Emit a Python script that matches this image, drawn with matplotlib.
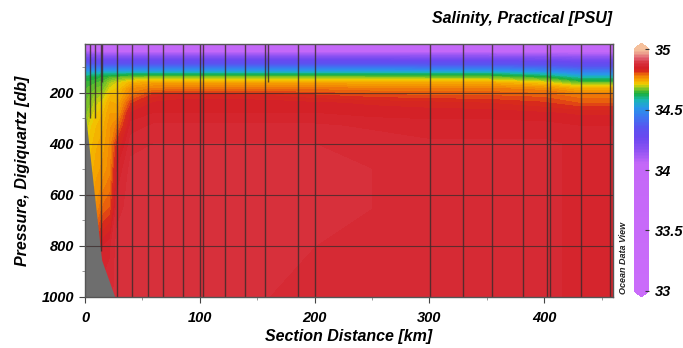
import numpy as np
import matplotlib
matplotlib.use("Agg")
import matplotlib.pyplot as plt
from matplotlib.colors import LinearSegmentedColormap, Normalize

plt.rcParams['font.family'] = ['Liberation Sans', 'DejaVu Sans']

# ---- data ----
dist_km = [0, 5, 10, 16, 22, 28, 40, 60, 85, 120, 160, 200, 250, 300, 350, 400, 430, 460]
pres_db = [5, 35, 50, 75, 95, 112, 125, 140, 160, 185, 210, 240, 280, 330, 400, 500, 650, 800, 1000]

# salinity profiles, one per distance column (values at pres_db levels)
sal_0   = [34.00, 34.05, 34.16, 34.30, 34.42, 34.50, 34.57, 34.62, 34.64, 34.65, 34.655, 34.66, 34.665, 34.68, 34.70, 34.72, 34.74, 34.76, 34.78]
sal_5   = [34.00, 34.04, 34.15, 34.29, 34.41, 34.50, 34.57, 34.625, 34.645, 34.655, 34.665, 34.675, 34.69, 34.71, 34.72, 34.73, 34.75, 34.77, 34.80]
sal_10  = [34.00, 34.03, 34.14, 34.28, 34.40, 34.50, 34.58, 34.63, 34.65, 34.665, 34.68, 34.695, 34.71, 34.725, 34.735, 34.745, 34.765, 34.82, 34.85]
sal_16  = [34.00, 34.03, 34.13, 34.28, 34.40, 34.50, 34.59, 34.64, 34.655, 34.67, 34.69, 34.71, 34.725, 34.735, 34.745, 34.755, 34.79, 34.85, 34.87]
sal_22  = [34.00, 34.03, 34.13, 34.28, 34.40, 34.50, 34.59, 34.65, 34.685, 34.705, 34.725, 34.74, 34.75, 34.76, 34.765, 34.77, 34.80, 34.86, 34.87]
sal_28  = [34.00, 34.02, 34.12, 34.28, 34.40, 34.50, 34.59, 34.66, 34.70, 34.715, 34.725, 34.735, 34.75, 34.78, 34.82, 34.85, 34.87, 34.88, 34.88]
sal_40  = [34.00, 34.02, 34.12, 34.28, 34.40, 34.50, 34.60, 34.67, 34.73, 34.765, 34.78, 34.81, 34.84, 34.855, 34.87, 34.88, 34.88, 34.88, 34.88]
sal_60  = [34.00, 34.02, 34.12, 34.28, 34.40, 34.50, 34.60, 34.68, 34.745, 34.78, 34.82, 34.84, 34.85, 34.865, 34.875, 34.88, 34.88, 34.88, 34.875]
sal_85  = [34.00, 34.02, 34.12, 34.28, 34.40, 34.50, 34.60, 34.68, 34.745, 34.785, 34.83, 34.845, 34.85, 34.865, 34.875, 34.88, 34.88, 34.88, 34.875]
sal_120 = [34.00, 34.02, 34.12, 34.28, 34.40, 34.50, 34.60, 34.68, 34.745, 34.785, 34.83, 34.845, 34.85, 34.865, 34.875, 34.88, 34.88, 34.88, 34.875]
sal_160 = [34.00, 34.02, 34.12, 34.28, 34.40, 34.50, 34.60, 34.68, 34.745, 34.785, 34.825, 34.845, 34.85, 34.865, 34.875, 34.88, 34.88, 34.88, 34.875]
sal_200 = [34.00, 34.02, 34.12, 34.28, 34.40, 34.50, 34.60, 34.68, 34.745, 34.785, 34.815, 34.84, 34.85, 34.865, 34.875, 34.88, 34.88, 34.875, 34.875]
sal_250 = [34.00, 34.02, 34.12, 34.28, 34.40, 34.50, 34.60, 34.675, 34.74, 34.78, 34.805, 34.835, 34.845, 34.86, 34.87, 34.875, 34.875, 34.87, 34.87]
sal_300 = [34.00, 34.02, 34.12, 34.27, 34.39, 34.50, 34.60, 34.67, 34.74, 34.78, 34.80, 34.83, 34.845, 34.855, 34.865, 34.87, 34.87, 34.865, 34.865]
sal_350 = [34.00, 34.02, 34.12, 34.27, 34.39, 34.50, 34.60, 34.67, 34.74, 34.78, 34.80, 34.825, 34.845, 34.855, 34.865, 34.87, 34.87, 34.865, 34.865]
sal_400 = [34.00, 34.02, 34.11, 34.26, 34.37, 34.47, 34.56, 34.64, 34.71, 34.77, 34.795, 34.815, 34.84, 34.855, 34.865, 34.865, 34.865, 34.865, 34.865]
sal_430 = [34.00, 34.02, 34.10, 34.24, 34.34, 34.43, 34.50, 34.58, 34.66, 34.74, 34.78, 34.80, 34.835, 34.85, 34.86, 34.86, 34.86, 34.86, 34.86]
sal_460 = [34.00, 34.02, 34.10, 34.24, 34.34, 34.43, 34.50, 34.58, 34.66, 34.74, 34.78, 34.80, 34.835, 34.85, 34.86, 34.86, 34.86, 34.86, 34.86]

sal_profiles = [sal_0, sal_5, sal_10, sal_16, sal_22, sal_28, sal_40, sal_60, sal_85, sal_120,
                sal_160, sal_200, sal_250, sal_300, sal_350, sal_400, sal_430, sal_460]

# station positions and their deepest sample
station_km = [4, 8.4, 13.7, 15.2, 27.6, 41, 54.5, 68, 85.5, 100.3, 102.8, 122.2, 139.6, 157, 159,
              186, 200.5, 300.8, 329.5, 354.6, 381.6, 402.5, 404.8, 431.7, 457.7]
station_maxp = [300, 300, 820, 157, 1000, 1000, 1000, 1000, 1000, 1000, 1000, 1000, 1000, 1000, 157,
                1000, 1000, 1000, 1000, 1000, 1000, 1000, 1000, 1000, 1000]

# bottom topography (gray)
bathy_km = [0, 0.8, 14.5, 26]
bathy_p = [300, 300, 855, 1000]

cbar_ticks = [33, 33.5, 34, 34.5, 35]
x_ticks = [0, 100, 200, 300, 400]
y_ticks = [200, 400, 600, 800, 1000]

# ---- colormap (ODV-like) ----
vmin, vmax = 33.0, 35.0
stops = [(33.0, '#CA6CFA'), (34.05, '#C468F8'), (34.18, '#8850F2'), (34.27, '#6A48F0'),
         (34.35, '#5A52F0'), (34.45, '#3A7AF0'), (34.52, '#2898E8'), (34.58, '#18B8B0'),
         (34.63, '#18AE40'), (34.68, '#90C820'), (34.71, '#F2D000'), (34.75, '#F5A000'),
         (34.79, '#EE7008'), (34.82, '#D82A1C'), (34.85, '#D42028'), (34.89, '#D8343F'),
         (34.93, '#E06070'), (34.96, '#EA9488'), (35.0, '#F5C09C')]
cmap = LinearSegmentedColormap.from_list(
    'odv', [((v - vmin) / (vmax - vmin), c) for v, c in stops], N=512)
cmap.set_under('#CA6CFA')
cmap.set_over('#F5C09C')

# ---- figure ----
fig = plt.figure(figsize=(6.83, 3.48), dpi=100)
ax = fig.add_axes([85 / 683, 1 - 297 / 348, 528 / 683, 253 / 348])

X, P = np.meshgrid(dist_km, pres_db)
Z = np.array(sal_profiles).T
levels = np.linspace(vmin, vmax, 161)
cf = ax.contourf(X, P, Z, levels=levels, cmap=cmap, norm=Normalize(vmin, vmax), extend='both')

ax.fill_between(bathy_km, bathy_p, 1010, color='#6E6E6E', zorder=3, linewidth=0)

for y in [200, 400, 600, 800]:
    ax.axhline(y, color='#3a2a2a', lw=0.8, alpha=0.75, zorder=4)
for xk, mp in zip(station_km, station_maxp):
    ax.vlines(xk, 0, mp, color='#3a2a2a', lw=1.0, alpha=0.8, zorder=4)

ax.set_xlim(0, 460)
ax.set_ylim(1000, 8)
ax.set_xticks(x_ticks)
ax.set_yticks(y_ticks)
ax.set_xticks(np.arange(50, 460, 100), minor=True)
ax.set_yticks(np.arange(100, 1000, 200), minor=True)
ax.tick_params(axis='both', which='major', direction='out', length=4, width=0.8,
               labelsize=10.5, color='#444444')
ax.tick_params(axis='both', which='minor', direction='out', length=2.5, width=0.6, color='#888888')
ax.tick_params(axis='x', which='major', pad=6)
ax.tick_params(axis='y', which='major', pad=4)
for lab in ax.get_xticklabels() + ax.get_yticklabels():
    lab.set_fontweight('bold')
    lab.set_fontstyle('italic')
for s in ax.spines.values():
    s.set_color('#555555')
    s.set_linewidth(1.0)
    s.set_zorder(5)

ax.set_xlabel('Section Distance [km]', fontsize=11.5, fontweight='bold', fontstyle='italic', labelpad=3)
ax.set_ylabel('Pressure, Digiquartz [db]', fontsize=11.5, fontweight='bold', fontstyle='italic', labelpad=8)

fig.text(612 / 683, 1 - 18 / 348, 'Salinity, Practical [PSU]', ha='right', va='center',
         fontsize=11.5, fontweight='bold', fontstyle='italic')
fig.text(623 / 683, 1 - 258 / 348, 'Ocean Data View', rotation=90, ha='center', va='center',
         fontsize=6.5, fontstyle='italic', fontweight='bold', color='#222222')

cax = fig.add_axes([634 / 683, 1 - 297 / 348, 15 / 683, 254 / 348])
cb = fig.colorbar(cf, cax=cax, extend='both', ticks=cbar_ticks, extendfrac=0.025)
cb.outline.set_visible(False)
cax.tick_params(direction='in', length=3, width=0.8, color='#333333', labelsize=10.5, pad=4)
cax.set_yticklabels(['33', '33.5', '34', '34.5', '35'])
for lab in cax.get_yticklabels():
    lab.set_fontweight('bold')
    lab.set_fontstyle('italic')

fig.savefig('out.png', dpi=100)
